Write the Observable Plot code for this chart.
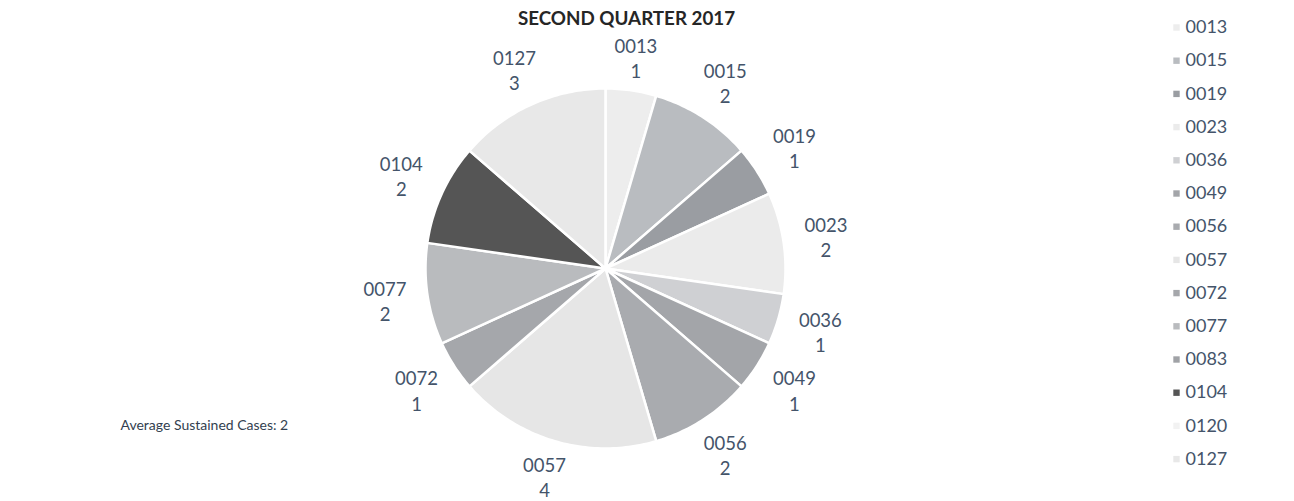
<!DOCTYPE html>
<html>
<head>
<meta charset="utf-8">
<script src="https://cdn.jsdelivr.net/npm/d3@7"></script>
<script src="https://cdn.jsdelivr.net/npm/@observablehq/plot@0.6"></script>
<style>
  html, body { margin: 0; padding: 0; background: #ffffff; }
  #chart svg { display: block; }
</style>
</head>
<body>
<div id="chart"></div>
<script>
// ---- data ----
const title = "SECOND QUARTER 2017";
const keys = ["0013","0015","0019","0023","0036","0049","0056","0057","0072","0077","0083","0104","0120","0127"];
const values = [1, 2, 1, 2, 1, 1, 2, 4, 1, 2, 0, 2, 0, 3];
const colors = ["#ededed","#b9bcc0","#9a9da2","#ebebeb","#cfd0d3","#a3a5a9","#a9abaf","#e6e6e6","#a5a7ab","#b9bbbe","#a0a2a6","#555555","#f2f2f2","#e8e8e8"];
const note = "Average Sustained Cases: 2";

// ---- layout ----
const W = 1294, H = 501;
const CX = 605, CY = 268, R = 180;   // pie centre & radius (px)
const font = "Lato, 'Open Sans', sans-serif";
const labelColor = "#44546a";

// unit scales: 1 unit = pie radius
const xDomain = [-CX / R, (W - CX) / R];
const yDomain = [-(H - CY) / R, CY / R];
const px = (x) => (x - CX) / R;
const py = (y) => (CY - y) / R;

const rows = keys.map((k, i) => ({key: k, value: values[i]}));
const arcs = d3.pie().sort(null).value(d => d.value)(rows);

// slice polygons
const poly = [];
for (const a of arcs) {
  if (a.data.value === 0) continue;
  const steps = Math.max(2, Math.ceil((a.endAngle - a.startAngle) / (Math.PI / 180)));
  poly.push({key: a.data.key, x: 0, y: 0});
  for (let s = 0; s <= steps; s++) {
    const t = a.startAngle + (a.endAngle - a.startAngle) * s / steps;
    poly.push({key: a.data.key, x: Math.sin(t), y: Math.cos(t)});
  }
  poly.push({key: a.data.key, x: 0, y: 0});
}

// labels: box placed just outside the pie edge ("outside end")
const gap = 16 / R, halfW = 25 / R, halfH = 14 / R;
const labels = arcs.filter(a => a.data.value > 0).map(a => {
  const m = (a.startAngle + a.endAngle) / 2;
  const s = Math.sin(m), c = Math.cos(m);
  const d = 1 + gap + halfW * Math.abs(s) + halfH * Math.abs(c);
  return {text: a.data.key + "\n" + a.data.value, x: d * s, y: d * c};
});

// legend
const legend = keys.map((k, i) => ({key: k, x: px(1176), xt: px(1185), y: py(27 + i * 33.2)}));

const chart = Plot.plot({
  width: W,
  height: H,
  margin: 0,
  x: {domain: xDomain, axis: null},
  y: {domain: yDomain, axis: null},
  color: {domain: keys, range: colors},
  style: {fontFamily: font, background: "#ffffff"},
  marks: [
    Plot.line(poly, {x: "x", y: "y", z: "key", fill: "key", stroke: "#ffffff", strokeWidth: 2.5, strokeLinejoin: "round", curve: "linear"}),
    Plot.text(labels, {x: "x", y: "y", text: "text", fill: labelColor, fontSize: 18.5, lineHeight: 1.36}),
    Plot.text([title], {x: px(626), y: py(18), text: d => d, fill: "#262626", fontSize: 18.8, fontWeight: "bold"}),
    Plot.dot(legend, {x: "x", y: "y", fill: "key", symbol: "square", r: 3.6}),
    Plot.text(legend, {x: "xt", y: "y", text: "key", fill: labelColor, fontSize: 18, textAnchor: "start"}),
    Plot.text([note], {x: px(120), y: py(425), text: d => d, fill: "#333f50", fontSize: 14, textAnchor: "start"})
  ]
});
document.getElementById("chart").appendChild(chart);
</script>
</body>
</html>
